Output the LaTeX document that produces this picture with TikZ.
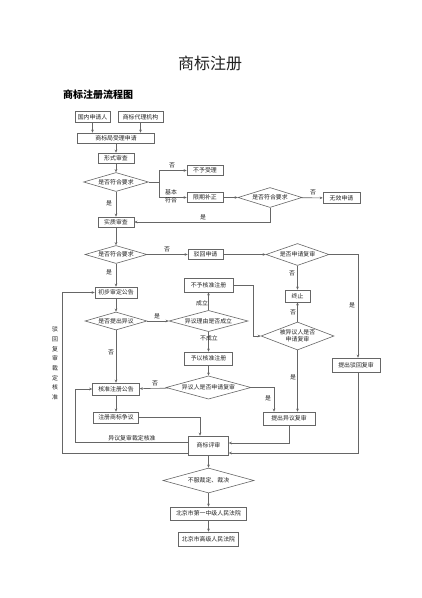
\documentclass[tikz,border=0pt]{standalone}
\usepackage{fontspec}
\setmainfont{Noto Sans CJK SC}
\usetikzlibrary{shapes.geometric,arrows.meta}
\definecolor{ln}{HTML}{666666}
\definecolor{tx}{HTML}{222222}
\tikzset{
  every node/.style={text=tx,font=\fontsize{5.9}{6.8}\selectfont},
  bx/.style={draw=ln,line width=0.6pt,rectangle,inner sep=0pt,align=center},
  dm/.style={draw=ln,line width=0.6pt,diamond,inner sep=0pt,shape aspect=3,align=center},
  arr/.style={draw=ln,line width=0.6pt,-{Stealth[length=3pt,width=2.6pt]}},
  ln/.style={draw=ln,line width=0.6pt},
  lb/.style={inner sep=0pt}
}
\begin{document}
\begin{tikzpicture}[x=1pt,y=-1pt]
\useasboundingbox[fill=white] (0,0) rectangle (422,598);
\node[lb,font=\fontsize{16}{18}\selectfont] (title) at (210,63) {商标注册};
\node[lb,anchor=west,font=\bfseries\fontsize{10}{12}\selectfont,text=black] (sub) at (63,95) {商标注册流程图};
% boxes
\node[bx,minimum width=35pt,minimum height=11pt] (t1) at (92.5,117) {国内申请人};
\node[bx,minimum width=45pt,minimum height=11pt] (t2) at (140.5,117) {商标代理机构};
\node[bx,minimum width=77pt,minimum height=10pt] (slj) at (116,138) {商标局受理申请};
\node[bx,minimum width=36pt,minimum height=10pt] (xs) at (116,158) {形式审查};
\node[dm,minimum width=65pt,minimum height=19pt] (d1) at (116,182) {是否符合要求};
\node[bx,minimum width=36pt,minimum height=9.5pt] (byl) at (205,170.5) {不予受理};
\node[bx,minimum width=36pt,minimum height=9.5pt] (xq) at (205,197.5) {限期补正};
\node[dm,minimum width=64pt,minimum height=20pt] (d2) at (270,197.5) {是否符合要求};
\node[bx,minimum width=37pt,minimum height=11pt] (wx) at (341.5,198) {无效申请};
\node[bx,minimum width=36pt,minimum height=10pt] (sz) at (116,222) {实质审查};
\node[dm,minimum width=62pt,minimum height=18pt] (d3) at (116,254.5) {是否符合要求};
\node[bx,minimum width=35pt,minimum height=10pt] (bh) at (205.5,254.5) {驳回申请};
\node[dm,minimum width=63pt,minimum height=22pt] (d4) at (297.5,254.5) {是否申请复审};
\node[bx,minimum width=25pt,minimum height=12pt] (zz) at (297.5,296) {终止};
\node[bx,minimum width=48pt,minimum height=14pt] (tb) at (356,365) {提出驳回复审};
\node[bx,minimum width=42pt,minimum height=11pt] (cb) at (116,292.5) {初步审定公告};
\node[dm,minimum width=62pt,minimum height=18pt] (d5) at (116,321) {是否提出异议};
\node[dm,minimum width=79pt,minimum height=18pt] (d6) at (208.5,321) {异议理由是否成立};
\node[bx,minimum width=49pt,minimum height=14pt] (bz) at (208.5,285) {不予核准注册};
\node[dm,minimum width=73pt,minimum height=28pt] (d7) at (297.5,336) {被异议人是否\\申请复审};
\node[bx,minimum width=52pt,minimum height=13pt] (tyf) at (289,418.5) {提出异议复审};
\node[bx,minimum width=48pt,minimum height=13pt] (yz) at (208.5,358.5) {予以核准注册};
\node[dm,minimum width=85pt,minimum height=19pt] (d8) at (208.5,387.5) {异议人是否申请复审};
\node[bx,minimum width=47pt,minimum height=12pt] (hz) at (116,389) {核准注册公告};
\node[bx,minimum width=45pt,minimum height=11pt] (zc) at (116,417.5) {注册商标争议};
\node[bx,minimum width=40pt,minimum height=19pt] (sp) at (208.5,445.5) {商标评审};
\node[dm,minimum width=91pt,minimum height=25pt] (d9) at (208.5,480.5) {不服裁定、裁决};
\node[bx,minimum width=76pt,minimum height=13pt] (bj1) at (208.5,513.5) {北京市第一中级人民法院};
\node[bx,minimum width=60pt,minimum height=14pt] (bj2) at (208.5,539) {北京市高级人民法院};
% coordinates
\coordinate (br) at (159,182);
\coordinate (k1) at (358,254.5);
\coordinate (k2) at (253,285);
\coordinate (k3) at (253,336);
\coordinate (k4) at (274,387.5);
\coordinate (k5) at (200,417.5);
\coordinate (k6) at (289,443);
\coordinate (k7) at (358,453);
\coordinate (k8) at (75,442);
\coordinate (k9) at (75,389);
\coordinate (k10) at (62,453);
\coordinate (k11) at (62,292.5);
% connectors
\draw[arr] (t1) -- (t1 |- slj.north);
\draw[arr] (t2) -- (t2 |- slj.north);
\draw[arr] (slj) -- (xs);
\draw[arr] (xs) -- (d1);
\draw[ln] (d1.east) -- (br);
\draw[arr] (br) |- (byl.west);
\draw[arr] (br) |- (xq.west);
\draw[arr] (xq) -- (d2);
\draw[arr] (d2) -- (wx);
\draw[arr] (d2.south) |- (sz.east);
\draw[arr] (d1) -- (sz);
\draw[arr] (sz) -- (d3);
\draw[arr] (d3) -- (bh);
\draw[arr] (bh) -- (d4);
\draw[arr] (d4.east) -- (k1) -- (tb.north -| k1);
\draw[arr] (d4) -- (zz);
\draw[arr] (d3) -- (cb);
\draw[arr] (cb) -- (d5);
\draw[arr] (d5) -- (d6);
\draw[arr] (d6) -- (bz);
\draw[arr] (bz.east) -- (k2) -- (k3) -- (d7.west);
\draw[arr] (d7) -- (zz);
\draw[arr] (d7.south) -- (d7.south |- tyf.north);
\draw[arr] (d6) -- (yz);
\draw[arr] (yz) -- (d8);
\draw[arr] (d8) -- (hz);
\draw[arr] (d8.east) -- (k4) -- (k4 |- tyf.north);
\draw[arr] (d5) -- (hz);
\draw[arr] (hz) -- (zc);
\draw[arr] (zc.east) -- (k5) -- (k5 |- sp.north);
\draw[arr] (tyf.south -| k6) -- (k6) -- (k6 -| sp.east);
\draw[arr] (tb.south -| k7) -- (k7) -- (k7 -| sp.east);
\draw[arr] (k8 -| sp.west) -- (k8) -- (k9) -- (hz.west);
\draw[arr] (k10 -| sp.west) -- (k10) -- (k11) -- (cb.west);
\draw[arr] (sp) -- (d9);
\draw[arr] (d9) -- (bj1);
\draw[arr] (bj1) -- (bj2);
% labels
\node[lb] (l1) at (172,165) {否};
\node[lb,align=center,font=\fontsize{5.9}{8}\selectfont] (l2) at (171,196) {基本\\符合};
\node[lb] (l3) at (313,192) {否};
\node[lb] (l4) at (203,217) {是};
\node[lb] (l5) at (109,203) {是};
\node[lb] (l6) at (167,249) {否};
\node[lb] (l7) at (352,305) {是};
\node[lb] (l8) at (292,273) {否};
\node[lb] (l9) at (109,272) {是};
\node[lb] (l10) at (157,316) {是};
\node[lb] (l11) at (202,303) {成立};
\node[lb] (l12) at (293,312) {否};
\node[lb] (l13) at (293,377) {是};
\node[lb] (l14) at (209,338) {不成立};
\node[lb] (l15) at (155,383) {否};
\node[lb] (l16) at (268,398) {是};
\node[lb] (l17) at (111,352) {否};
\node[lb] (l18) at (132,438) {异议复审裁定核准};
\node[lb,align=center,font=\fontsize{5.9}{9.7}\selectfont] (l19) at (55,363.5) {驳\\回\\复\\审\\裁\\定\\核\\准};
\end{tikzpicture}
\end{document}
